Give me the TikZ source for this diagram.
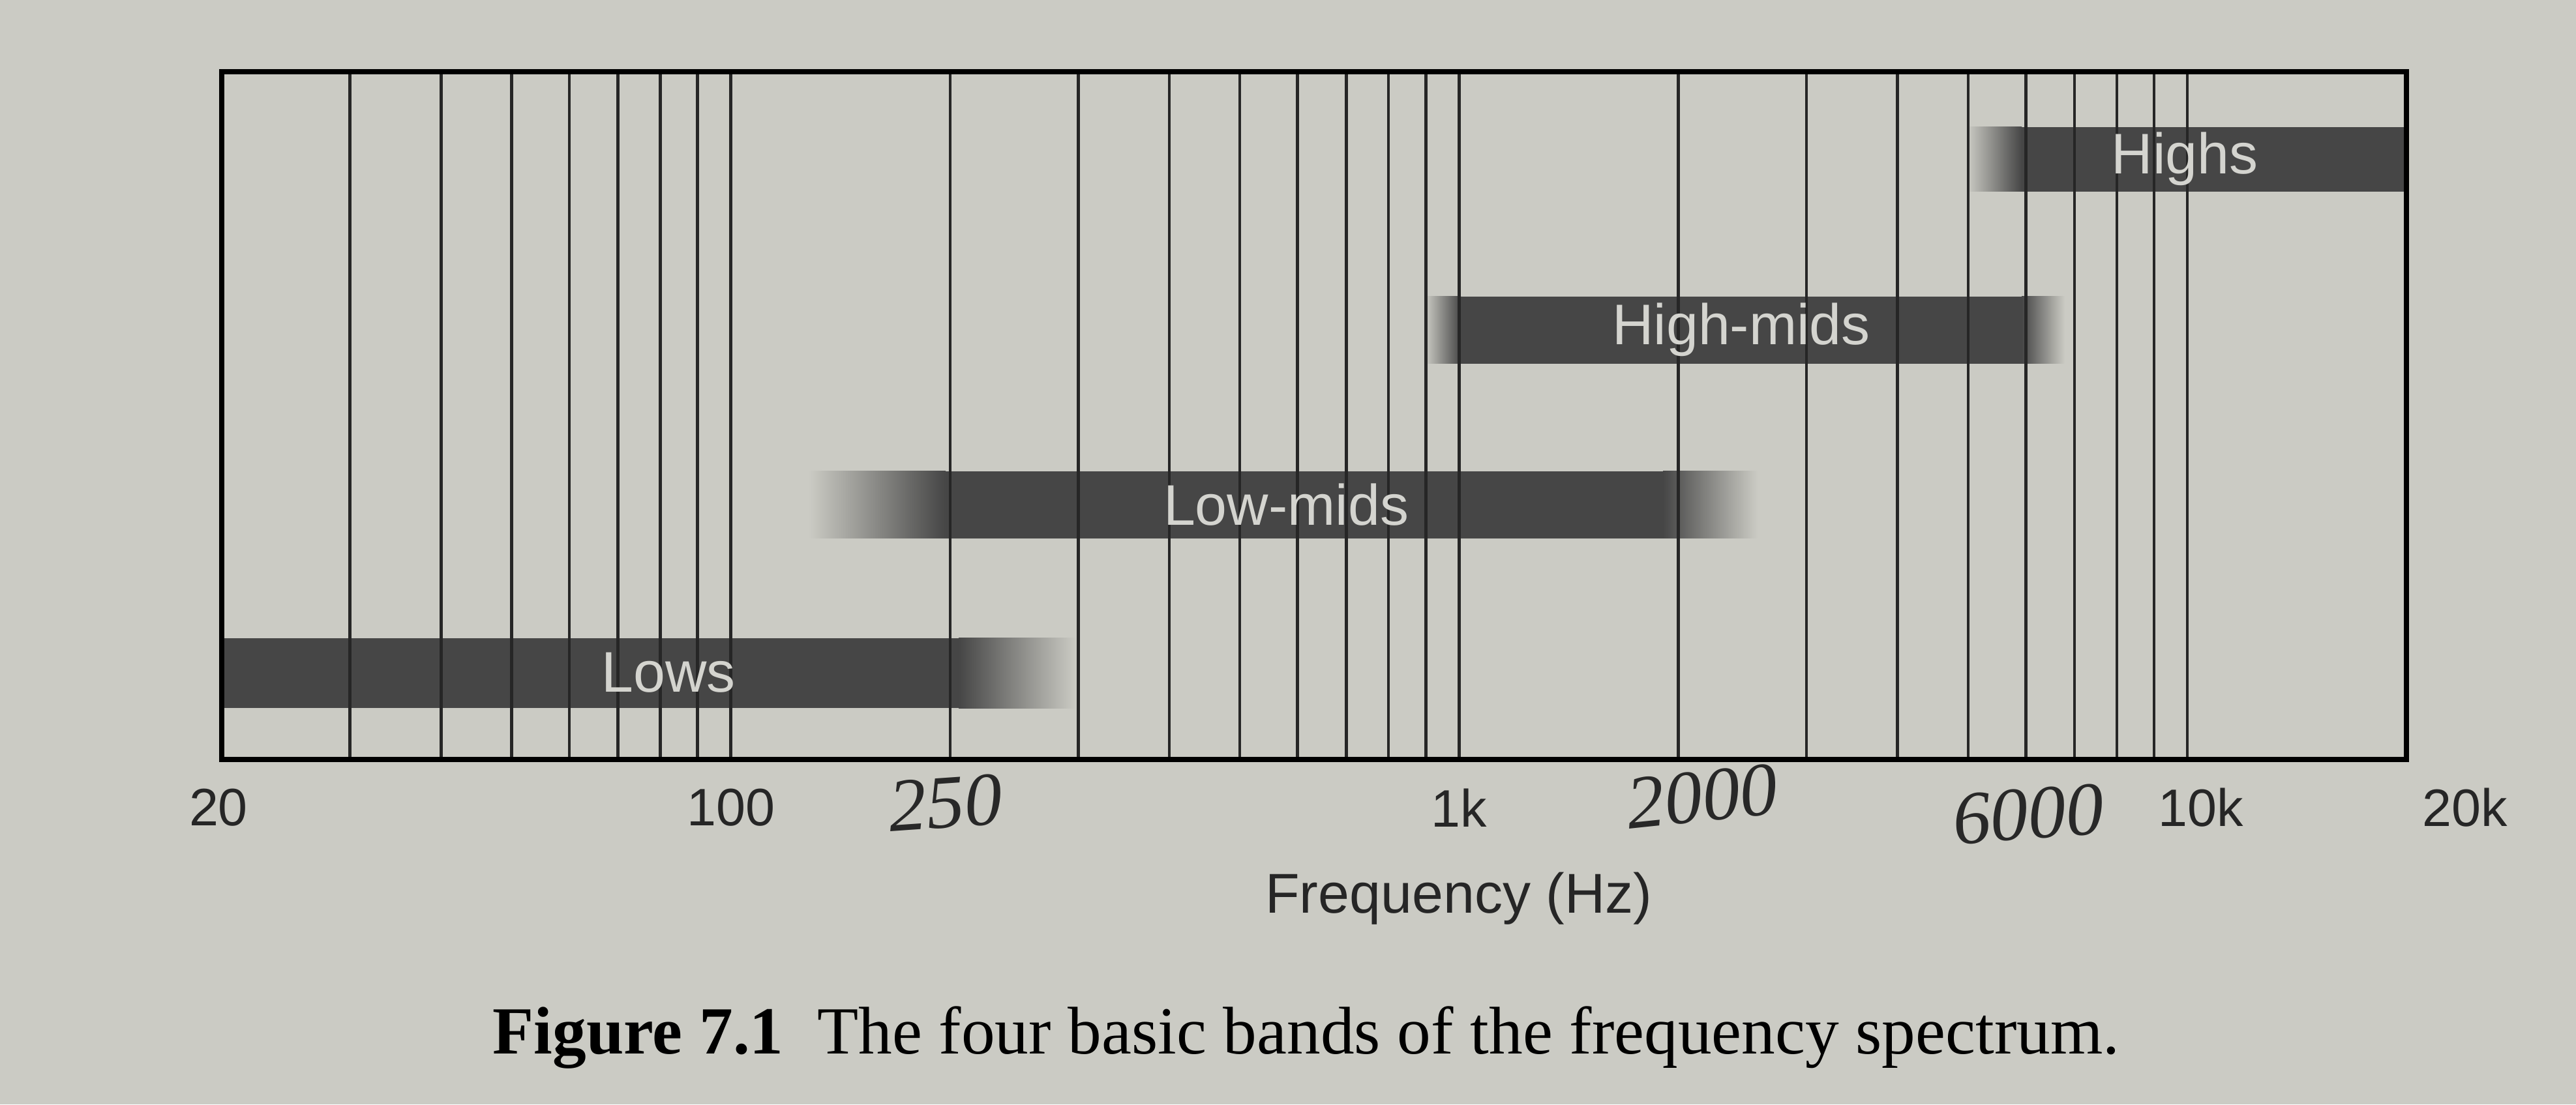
\documentclass[tikz,border=0pt]{standalone}
\usepackage{fontspec}
\setmainfont{Liberation Serif}
\setsansfont{Liberation Sans}

\definecolor{paper}{RGB}{203,203,196}
\definecolor{bandgray}{RGB}{70,70,70}
\definecolor{bandtext}{RGB}{212,212,207}
\definecolor{pen}{RGB}{40,40,40}

\tikzset{
  gridline/.style={line width=1.3pt,black!85},
  frame/.style={line width=2.4pt,black},
  bandlabel/.style={text=bandtext,font=\sffamily\fontsize{25}{25}\selectfont},
  ticklabel/.style={text=black!85,font=\sffamily\fontsize{23}{23}\selectfont},
  handnum/.style={text=pen,font=\itshape\fontsize{33}{33}\selectfont},
}

\begin{document}
\begin{tikzpicture}
  \useasboundingbox (0,0) rectangle (39.5,16.94);
  \fill[paper] (0,0) rectangle (39.5,16.94);
  % log axis: 10 Hz sits at \xo, one decade is \dec
  \def\xo{0.04}
  \def\dec{11.1667}
  \coordinate (sw) at (3.40,5.29);
  \coordinate (ne) at (36.90,15.84);
  % bands (solid part, then fades)
  \fill[bandgray] (sw |- 0,6.08) rectangle (14.70,7.15);
  \shade[left color=bandgray,right color=paper] (14.70,6.08) rectangle (16.50,7.15);
  \shade[left color=paper,right color=bandgray] (12.40,8.68) rectangle (14.50,9.71);
  \fill[bandgray] (14.50,8.68) rectangle (25.50,9.71);
  \shade[left color=bandgray,right color=paper] (25.50,8.68) rectangle (26.95,9.71);
  \shade[left color=paper,right color=bandgray] (21.85,11.36) rectangle (22.40,12.39);
  \fill[bandgray] (22.40,11.36) rectangle (31.00,12.39);
  \shade[left color=bandgray,right color=paper] (31.00,11.36) rectangle (31.66,12.39);
  \shade[left color=paper,right color=bandgray] (30.16,14.00) rectangle (31.00,14.99);
  \fill[bandgray] (31.00,14.00) rectangle (ne |- 0,14.99);
  % grid: 30 Hz ... 10 kHz (in units of 10 Hz)
  \foreach \f in {3,...,10,20,30,...,100,200,300,...,1000}
    \draw[gridline] ({\xo+\dec*log10(\f)},5.29) -- ({\xo+\dec*log10(\f)},15.84);
  \draw[frame] (sw) rectangle (ne);
  % band names
  \node[bandlabel] (lows)     at (10.25,6.62)  {Lows};
  \node[bandlabel] (lowmids)  at (19.72,9.20)  {Low-mids};
  \node[bandlabel] (highmids) at (26.70,11.88) {High-mids};
  \node[bandlabel] (highs)    at (33.50,14.50) {Highs};
  % axis numbers
  \node[ticklabel] (t20)  at (3.35,4.55)  {20};
  \node[ticklabel] (t100) at (11.21,4.55) {100};
  \node[ticklabel] (t1k)  at (22.37,4.55) {1k};
  \node[ticklabel] (t10k) at (33.75,4.55) {10k};
  \node[ticklabel] (t20k) at (37.80,4.55) {20k};
  % pen notes
  \node[handnum,rotate=4] (n250)  at (14.50,4.62) {250};
  \node[handnum,rotate=6] (n2000) at (26.10,4.72) {2000};
  \node[handnum,rotate=4] (n6000) at (31.10,4.45) {6000};
  \node[ticklabel,font=\sffamily\fontsize{24.5}{24.5}\selectfont] (xlabel) at (22.37,3.16) {Frequency (Hz)};
  \node[font=\rmfamily\fontsize{29.4}{29.4}\selectfont] (caption) at (20.03,1.02)
    {\textbf{Figure 7.1}\enspace The four basic bands of the frequency spectrum.};
\end{tikzpicture}
\end{document}
